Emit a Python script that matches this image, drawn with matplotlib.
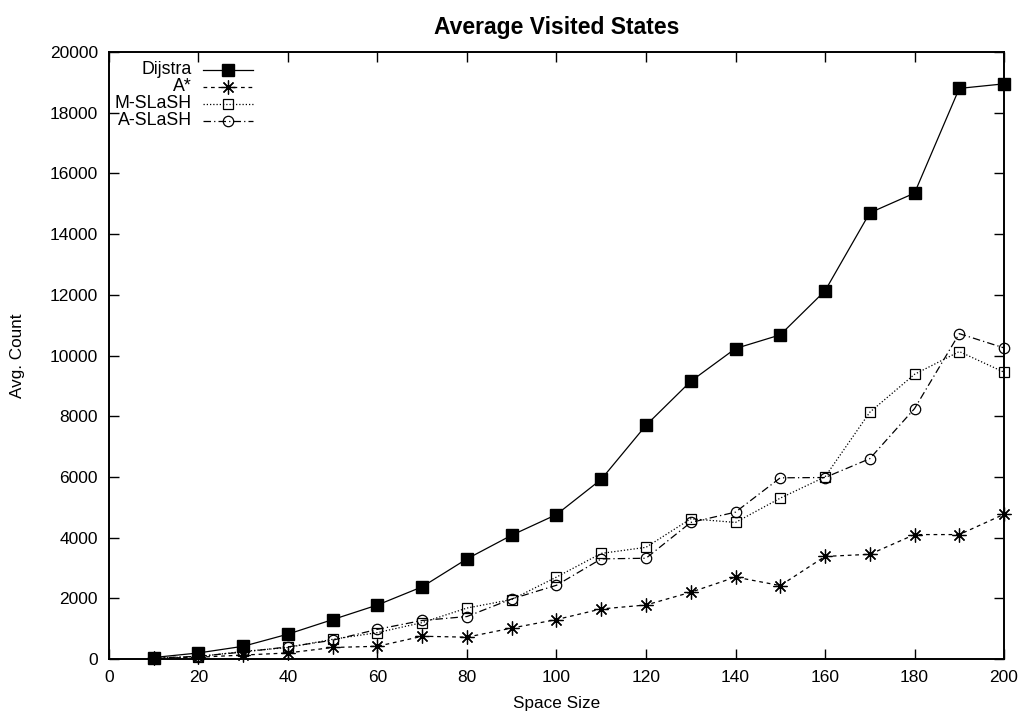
import matplotlib
matplotlib.use("Agg")
import matplotlib.pyplot as plt

plt.rcParams['font.family'] = ['Liberation Sans', 'DejaVu Sans']

# data
space_size = [10, 20, 30, 40, 50, 60, 70, 80, 90, 100,
              110, 120, 130, 140, 150, 160, 170, 180, 190, 200]
dijstra = [50, 200, 420, 820, 1300, 1780, 2380, 3300, 4080, 4760,
           5920, 7700, 9150, 10230, 10680, 12130, 14700, 15350, 18800, 18950]
a_star = [20, 60, 130, 200, 380, 420, 750, 720, 1020, 1300,
          1650, 1780, 2200, 2700, 2420, 3380, 3450, 4100, 4100, 4770]
m_slash = [30, 80, 250, 380, 650, 870, 1200, 1680, 1960, 2700,
           3480, 3680, 4620, 4500, 5300, 6000, 8130, 9380, 10130, 9450]
a_slash = [30, 90, 230, 400, 620, 980, 1270, 1400, 1980, 2430,
           3300, 3320, 4500, 4840, 5970, 5980, 6600, 8250, 10720, 10250]

labels = ["Dijstra", "A*", "M-SLaSH", "A-SLaSH"]
x_ticks = list(range(0, 201, 20))
y_ticks = list(range(0, 20001, 2000))

# gnuplot-ish styles
styles = [
    dict(ls='-', marker='s', ms=8, mfc='black', mec='black'),
    dict(ls=(0, (3, 3)), marker=(8, 2, 0), ms=10, mfc='none', mec='black', mew=0.9),
    dict(ls=(0, (1, 1.6)), marker='s', ms=7, mfc='none', mec='black', mew=0.9),
    dict(ls=(0, (6, 2.5, 1, 2.5)), marker='o', ms=7.5, mfc='none', mec='black', mew=0.9),
]

fig = plt.figure(figsize=(10.24, 7.14), dpi=100)
ax = fig.add_axes([0.1064, 0.077, 0.8741, 0.8502])

series = [dijstra, a_star, m_slash, a_slash]
for vals, st in zip(series, styles):
    ax.plot(space_size, vals, color='black', lw=0.9, clip_on=False, **st)

ax.set_xlim(0, 200)
ax.set_ylim(0, 20000)
ax.set_xticks(x_ticks)
ax.set_yticks(y_ticks)
ax.tick_params(direction='in', length=7, width=1, labelsize=12.5,
               top=True, right=True, pad=8)
for sp in ax.spines.values():
    sp.set_linewidth(1.4)

ax.set_title("Average Visited States", fontsize=16.5, fontweight='bold', pad=13)
ax.set_xlabel("Space Size", fontsize=12.3, labelpad=8)
ax.set_ylabel("Avg. Count", fontsize=12.3, labelpad=18)

# legend drawn by hand: right-aligned text, sample to the right
bb_w, bb_h = 895.0, 607.0
for i, (lab, st) in enumerate(zip(labels, styles)):
    yp = 1 - (18 + 17 * i) / bb_h
    ax.text((192 - 109) / bb_w, yp, lab, ha='right', va='center',
            fontsize=12.8, transform=ax.transAxes)
    line_st = {k: v for k, v in st.items() if k == 'ls'}
    ax.plot([(203 - 109) / bb_w, (253 - 109) / bb_w], [yp, yp], color='black',
            lw=0.9, transform=ax.transAxes, **line_st)
    mk_st = {k: v for k, v in st.items() if k != 'ls'}
    ax.plot([(228 - 109) / bb_w], [yp], color='black', ls='none',
            transform=ax.transAxes, **mk_st)

fig.savefig("out.png", dpi=100)
